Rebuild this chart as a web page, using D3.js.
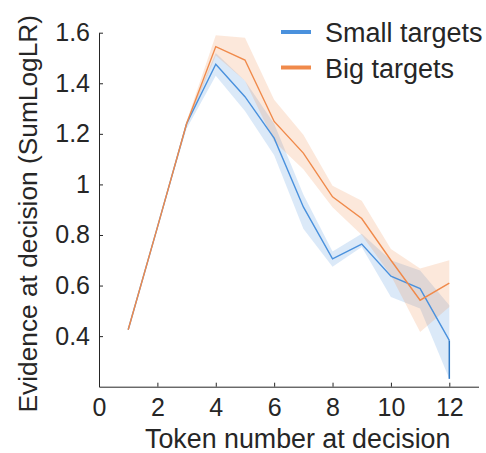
<!DOCTYPE html>
<html>
<head>
<meta charset="utf-8">
<script src="https://cdn.jsdelivr.net/npm/d3@7"></script>
<style>
  body { margin: 0; background: #fff; }
  text { font-family: "Liberation Sans", Arial, sans-serif; fill: #262626; }
</style>
</head>
<body>
<svg id="chart"></svg>
<script>
// token number at decision
const tokens = [1, 2, 3, 4, 5, 6, 7, 8, 9, 10, 11, 12];

// small targets: mean and shaded band
const smallMean  = [0.425, 0.83, 1.24, 1.475, 1.347, 1.183, 0.911, 0.706, 0.764, 0.637, 0.588, 0.383];
const smallUpper = [0.425, 0.83, 1.25, 1.52, 1.41, 1.24, 0.96, 0.735, 0.805, 0.70, 0.66, 0.522];
const smallLower = [0.425, 0.83, 1.22, 1.43, 1.29, 1.115, 0.825, 0.674, 0.752, 0.555, 0.509, 0.231];

// big targets: mean and shaded band
const bigMean  = [0.425, 0.83, 1.24, 1.545, 1.492, 1.249, 1.124, 0.951, 0.865, 0.70, 0.542, 0.61];
const bigUpper = [0.425, 0.83, 1.25, 1.59, 1.58, 1.335, 1.196, 0.995, 0.935, 0.745, 0.667, 0.70];
const bigLower = [0.425, 0.83, 1.23, 1.51, 1.41, 1.17, 1.06, 0.91, 0.80, 0.64, 0.416, 0.515];

const xTicks = [0, 2, 4, 6, 8, 10, 12];
const yTicks = [0.4, 0.6, 0.8, 1, 1.2, 1.4, 1.6];

const seriesNames = ["Small targets", "Big targets"];
const colors = ["#4a91dd", "#f08a4b"];

const width = 486, height = 453;
const marginLeft = 99, marginRight = 7.5, marginTop = 32.7, marginBottom = 66.3;

var svg = d3.select("#chart")
    .attr("width", width)
    .attr("height", height);

var x = d3.scaleLinear()
    .domain([0, 13])
    .range([marginLeft, width - marginRight]);
var y = d3.scaleLinear()
    .domain([0.2, 1.6])
    .range([height - marginBottom, marginTop]);

function buildRows(mean, lo, hi) {
    return tokens.map((t, i) => ({t: t, m: mean[i], lo: lo[i], hi: hi[i]}));
}
const series = [
    buildRows(smallMean, smallLower, smallUpper),
    buildRows(bigMean, bigLower, bigUpper)
];

const area = d3.area()
    .x(d => x(d.t))
    .y0(d => y(d.lo))
    .y1(d => y(d.hi));
const line = d3.line()
    .x(d => x(d.t))
    .y(d => y(d.m));

// shaded bands
series.forEach((rows, i) => {
    svg.append("path")
        .datum(rows)
        .attr("d", area)
        .attr("fill", colors[i])
        .attr("fill-opacity", 0.2)
        .attr("stroke", "none");
});

// small targets: edge of band at the last token
const last = series[0][series[0].length - 1];
svg.append("line")
    .attr("x1", x(last.t)).attr("x2", x(last.t))
    .attr("y1", y(last.m)).attr("y2", y(last.lo))
    .attr("stroke", "#2f78c4")
    .attr("stroke-width", 1.5);

// mean lines
series.forEach((rows, i) => {
    svg.append("path")
        .datum(rows)
        .attr("d", line)
        .attr("fill", "none")
        .attr("stroke", colors[i])
        .attr("stroke-width", 1.4);
});

// axes (MATLAB style, ticks inside)
var xAxis = svg.append("g")
    .attr("transform", `translate(0, ${height - marginBottom})`)
    .call(d3.axisBottom(x).tickValues(xTicks).tickSizeInner(-4).tickSizeOuter(0).tickPadding(12));
var yAxis = svg.append("g")
    .attr("transform", `translate(${marginLeft}, 0)`)
    .call(d3.axisLeft(y).tickValues(yTicks).tickSizeInner(-4).tickSizeOuter(0).tickPadding(9)
        .tickFormat(d => d === 1 ? "1" : d3.format(".1f")(d)));

[xAxis, yAxis].forEach(g => {
    g.select(".domain").attr("stroke", "#262626").attr("stroke-width", 1);
    g.selectAll(".tick line").attr("stroke", "#262626");
    g.selectAll(".tick text")
        .attr("font-size", "25px")
        .attr("font-family", "'Liberation Sans', Arial, sans-serif")
        .attr("fill", "#262626");
});

// axis titles
svg.append("text")
    .attr("x", (x(0) + x(13)) / 2 + 9)
    .attr("y", 448)
    .attr("text-anchor", "middle")
    .attr("font-size", "26.8px")
    .text("Token number at decision");

svg.append("text")
    .attr("transform", `translate(37, ${(y(0.2) + y(1.6)) / 2 + 4}) rotate(-90)`)
    .attr("text-anchor", "middle")
    .attr("font-size", "26.3px")
    .text("Evidence at decision (SumLogLR)");

// legend
const legend = svg.append("g");
seriesNames.forEach((name, i) => {
    const ly = 32 + i * 35.5;
    legend.append("line")
        .attr("x1", 281).attr("x2", 311)
        .attr("y1", ly).attr("y2", ly)
        .attr("stroke", colors[i])
        .attr("stroke-width", 4);
    legend.append("text")
        .attr("x", 325)
        .attr("y", ly + 10)
        .attr("font-size", "27px")
        .text(name);
});
</script>
</body>
</html>
